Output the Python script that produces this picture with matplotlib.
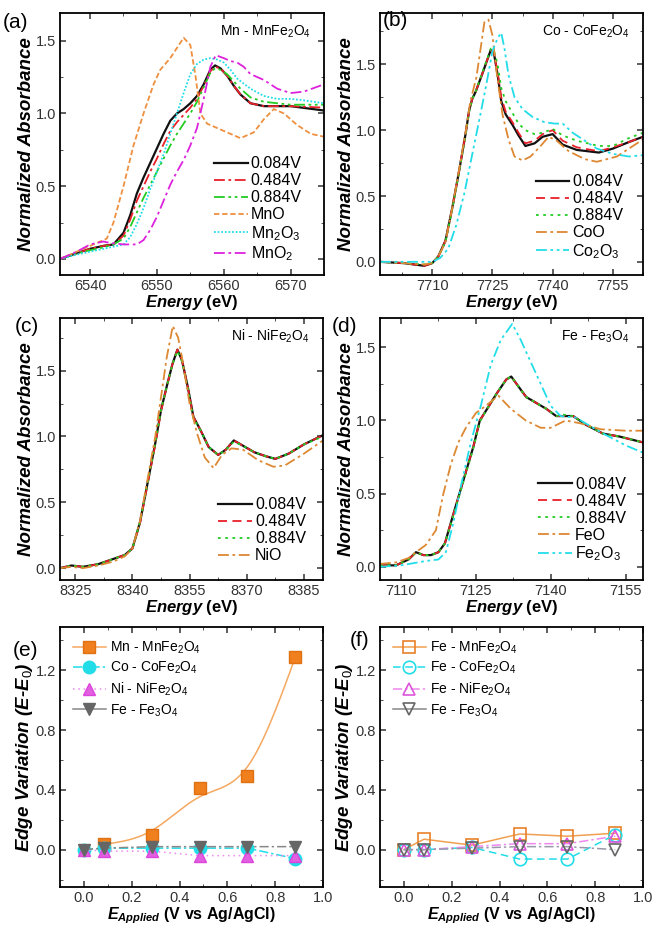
import numpy as np
import matplotlib
matplotlib.use("Agg")
import matplotlib.pyplot as plt
from matplotlib.lines import Line2D
from matplotlib.ticker import MultipleLocator, FormatStrFormatter

plt.rcParams.update({
    "font.family": ["Liberation Sans", "DejaVu Sans"],
    "font.size": 10,
    "mathtext.fontset": "custom",
    "mathtext.rm": "Liberation Sans",
    "mathtext.it": "Liberation Sans:italic:bold",
    "mathtext.bf": "Liberation Sans:bold",
    "axes.linewidth": 1.3,
    "xtick.direction": "in", "ytick.direction": "in",
    "xtick.top": True, "ytick.right": True,
    "xtick.major.size": 4, "ytick.major.size": 4,
    "xtick.minor.size": 2.5, "ytick.minor.size": 2.5,
    "xtick.major.width": 1.1, "ytick.major.width": 1.1,
    "xtick.color": "#333333", "ytick.color": "#333333",
})

BLACK = "#111111"
RED = "#e8202a"
GREEN = "#22cc22"
ORANGE = "#ee9040"
DKORANGE = "#dd8833"
CYAN = "#22dde8"
MAGENTA = "#dd22dd"
GRAY = "#666666"

# ---- (a) Mn K-edge, MnFe2O4 ------------------------------------------------
mn_e = [6535.5, 6538, 6540, 6542, 6543.5, 6545, 6546, 6547, 6548, 6549, 6550, 6551, 6552, 6553,
        6554, 6555, 6556, 6557, 6558, 6558.7, 6559.5, 6560.5, 6561.5, 6562.5, 6564, 6566, 6570, 6575]
mn_a_084 = [0.0, 0.04, 0.07, 0.09, 0.1, 0.18, 0.3, 0.45, 0.56, 0.66, 0.76, 0.86, 0.95, 1.0,
            1.03, 1.07, 1.12, 1.2, 1.3, 1.33, 1.31, 1.26, 1.19, 1.13, 1.07, 1.05, 1.05, 1.02]
mn_a_484 = [0.0, 0.04, 0.07, 0.09, 0.1, 0.16, 0.27, 0.4, 0.5, 0.6, 0.69, 0.79, 0.88, 0.94,
            0.99, 1.04, 1.1, 1.19, 1.29, 1.32, 1.31, 1.26, 1.19, 1.13, 1.07, 1.05, 1.05, 1.04]
mn_a_884 = [0.0, 0.04, 0.06, 0.08, 0.1, 0.14, 0.22, 0.32, 0.42, 0.51, 0.6, 0.69, 0.78, 0.86,
            0.93, 1.0, 1.08, 1.18, 1.28, 1.31, 1.3, 1.27, 1.22, 1.17, 1.11, 1.08, 1.06, 1.06]
mno_e = [6535.5, 6538, 6540, 6541.5, 6542.5, 6543.5, 6545, 6546.5, 6548, 6549.5, 6550.5, 6552, 6553, 6554,
         6555, 6555.8, 6556.5, 6557.5, 6559, 6561, 6562.5, 6564.5, 6566, 6567.5, 6569, 6571, 6573, 6575]
mno_a = [0.0, 0.05, 0.09, 0.12, 0.14, 0.25, 0.5, 0.78, 1.0, 1.2, 1.3, 1.38, 1.45, 1.52,
         1.47, 1.25, 1.0, 0.93, 0.9, 0.86, 0.83, 0.87, 0.96, 1.03, 1.0, 0.92, 0.86, 0.84]
mn2o3_e = [6535.5, 6538, 6540, 6543, 6545, 6546, 6547, 6548, 6549, 6550, 6551, 6552, 6553, 6554,
           6555, 6556, 6557, 6558, 6559, 6560, 6561, 6562, 6564, 6566, 6568, 6570, 6572, 6575]
mn2o3_a = [0.0, 0.03, 0.05, 0.08, 0.1, 0.15, 0.24, 0.35, 0.48, 0.6, 0.72, 0.86, 1.0, 1.14,
           1.27, 1.34, 1.37, 1.38, 1.37, 1.35, 1.3, 1.24, 1.17, 1.12, 1.1, 1.1, 1.09, 1.07]
mno2_e = [6535.5, 6538, 6540, 6542, 6543, 6545, 6547, 6548, 6549, 6550, 6551, 6552, 6553, 6554,
          6555, 6556, 6557, 6558, 6558.8, 6560, 6561, 6562, 6563, 6564, 6566, 6568, 6570, 6572, 6575]
mno2_a = [0.0, 0.05, 0.1, 0.12, 0.11, 0.1, 0.1, 0.13, 0.2, 0.29, 0.4, 0.51, 0.6, 0.68,
          0.78, 0.9, 1.1, 1.32, 1.4, 1.38, 1.36, 1.35, 1.32, 1.27, 1.23, 1.17, 1.14, 1.15, 1.2]

# ---- (b) Co K-edge, CoFe2O4 ------------------------------------------------
co_e = [7697, 7703, 7708, 7710, 7711.5, 7713.3, 7715, 7716.7, 7718.3, 7719.2, 7720, 7720.8, 7722.5,
        7724.6, 7725.4, 7726.3, 7727.2, 7728.3, 7730, 7731.5, 7733.2, 7735.5, 7737.5, 7740, 7742.5,
        7746, 7751.5, 7755, 7759, 7762.5]
co_a_084 = [0.0, -0.01, -0.03, -0.01, 0.04, 0.16, 0.41, 0.69, 0.97, 1.15, 1.24, 1.29, 1.43,
            1.61, 1.58, 1.42, 1.22, 1.12, 1.04, 0.96, 0.88, 0.9, 0.95, 0.97, 0.89,
            0.85, 0.83, 0.86, 0.91, 0.95]
co_a_484 = [0.0, -0.01, -0.03, -0.01, 0.04, 0.16, 0.41, 0.69, 0.97, 1.15, 1.24, 1.29, 1.43,
            1.61, 1.58, 1.44, 1.25, 1.14, 1.06, 0.98, 0.9, 0.92, 0.97, 1.0, 0.92,
            0.87, 0.84, 0.87, 0.91, 0.95]
co_a_884 = [0.0, -0.01, -0.02, -0.01, 0.04, 0.15, 0.4, 0.68, 0.96, 1.14, 1.24, 1.29, 1.44,
            1.62, 1.6, 1.5, 1.32, 1.22, 1.13, 1.05, 1.0, 0.97, 0.98, 1.01, 0.96,
            0.92, 0.88, 0.88, 0.94, 0.98]
coo_e = [7697, 7703, 7708, 7710, 7711.5, 7713.3, 7715, 7716.7, 7718.3, 7719.5, 7721, 7722.2, 7723,
         7724, 7725, 7726, 7727.5, 7729, 7730.5, 7732.5, 7734.5, 7737, 7739, 7741, 7744,
         7748, 7751, 7756, 7760, 7762.5]
coo_a = [0.0, -0.01, -0.02, -0.01, 0.04, 0.15, 0.41, 0.7, 0.98, 1.22, 1.4, 1.65, 1.82,
         1.84, 1.72, 1.45, 1.12, 0.93, 0.8, 0.77, 0.8, 0.88, 0.95, 0.92, 0.84,
         0.78, 0.76, 0.8, 0.88, 0.93]
co2o3_e = [7697, 7703, 7708, 7710, 7712, 7714, 7716, 7718, 7720, 7722, 7723.5, 7725, 7726.3,
           7727.2, 7728, 7729, 7730.5, 7732.5, 7735, 7738, 7740.5, 7742.5, 7745, 7748,
           7751, 7755, 7759, 7762.5]
co2o3_a = [0.0, 0.0, 0.0, 0.0, 0.03, 0.1, 0.28, 0.52, 0.82, 1.12, 1.35, 1.6, 1.7,
           1.74, 1.62, 1.42, 1.25, 1.16, 1.1, 1.06, 1.05, 1.05, 0.98, 0.92,
           0.86, 0.82, 0.8, 0.81]

# ---- (c) Ni K-edge, NiFe2O4 ------------------------------------------------
ni_e = [8321, 8324, 8327, 8331, 8335, 8338, 8340, 8342, 8344, 8346, 8347.5, 8349, 8350.5, 8351.8,
        8353, 8354.5, 8356, 8358, 8360, 8362.5, 8364.5, 8366.6, 8369, 8372, 8375, 8377.5, 8381, 8385, 8390]
ni_a_084 = [0.0, 0.02, 0.01, 0.03, 0.07, 0.1, 0.15, 0.35, 0.65, 0.95, 1.2, 1.38, 1.55, 1.66,
            1.58, 1.38, 1.15, 1.04, 0.92, 0.86, 0.9, 0.97, 0.93, 0.88, 0.85, 0.83, 0.87, 0.94, 1.01]
ni_a_484 = [0.0, 0.02, 0.01, 0.03, 0.07, 0.1, 0.15, 0.34, 0.64, 0.94, 1.19, 1.38, 1.55, 1.66,
            1.58, 1.38, 1.15, 1.04, 0.92, 0.86, 0.9, 0.97, 0.93, 0.88, 0.85, 0.83, 0.87, 0.94, 1.01]
ni_a_884 = [0.0, 0.02, 0.01, 0.03, 0.07, 0.1, 0.15, 0.35, 0.65, 0.95, 1.2, 1.38, 1.55, 1.65,
            1.57, 1.37, 1.14, 1.04, 0.92, 0.86, 0.9, 0.96, 0.93, 0.88, 0.85, 0.83, 0.87, 0.94, 1.0]
nio_e = [8321, 8324, 8327, 8331, 8335, 8338, 8340, 8342, 8344, 8346, 8347.5, 8349, 8350.6, 8352,
         8353, 8355, 8357, 8359, 8361.3, 8363.5, 8366, 8369, 8373, 8377, 8380, 8385, 8390]
nio_a = [0.0, 0.01, 0.0, 0.02, 0.05, 0.09, 0.15, 0.36, 0.68, 1.0, 1.3, 1.6, 1.84, 1.75,
         1.6, 1.25, 1.02, 0.84, 0.76, 0.86, 0.91, 0.9, 0.82, 0.77, 0.78, 0.87, 0.97]

# ---- (d) Fe K-edge, Fe3O4 --------------------------------------------------
fe_e = [7105.8, 7109, 7111.5, 7113, 7114.5, 7116, 7117.5, 7118.8, 7120.5, 7122.5, 7124.5, 7125.8,
        7127.1, 7129.1, 7131.1, 7132.1, 7133.8, 7135.1, 7137.1, 7139.1, 7141.1, 7142.5, 7144.5,
        7147.1, 7150.5, 7153.8, 7158.5]
fe_a_084 = [0.01, 0.01, 0.05, 0.1, 0.08, 0.08, 0.1, 0.16, 0.36, 0.59, 0.82, 1.0,
            1.07, 1.18, 1.28, 1.3, 1.22, 1.16, 1.12, 1.08, 1.03, 1.03, 1.03,
            0.97, 0.91, 0.89, 0.85]
fe_a_484 = [0.01, 0.01, 0.05, 0.1, 0.08, 0.08, 0.1, 0.16, 0.36, 0.59, 0.82, 1.0,
            1.07, 1.18, 1.28, 1.3, 1.22, 1.16, 1.12, 1.08, 1.03, 1.03, 1.03,
            0.97, 0.91, 0.89, 0.85]
fe_a_884 = [0.01, 0.01, 0.05, 0.1, 0.08, 0.08, 0.1, 0.16, 0.35, 0.58, 0.81, 0.99,
            1.07, 1.18, 1.28, 1.3, 1.22, 1.16, 1.12, 1.08, 1.03, 1.04, 1.03,
            0.97, 0.91, 0.89, 0.85]
feo_e = [7105.8, 7109, 7111.5, 7113, 7115, 7117, 7118.5, 7120, 7121.5, 7123, 7125, 7127,
         7129.5, 7132, 7135, 7138, 7140, 7143, 7146, 7150, 7155, 7158.5]
feo_a = [0.02, 0.03, 0.06, 0.1, 0.15, 0.25, 0.5, 0.7, 0.85, 0.95, 1.05, 1.1,
         1.17, 1.08, 1.0, 0.95, 0.95, 1.0, 0.98, 0.94, 0.93, 0.93]
fe2o3_e = [7105.8, 7110, 7115, 7117.5, 7119, 7120.5, 7122, 7124, 7126, 7128, 7130, 7132.3,
           7134, 7136, 7138, 7140, 7142, 7145, 7150, 7155, 7158.5]
fe2o3_a = [0.0, 0.01, 0.04, 0.05, 0.1, 0.3, 0.55, 0.85, 1.1, 1.38, 1.55, 1.66,
           1.55, 1.4, 1.25, 1.1, 1.03, 1.02, 0.92, 0.83, 0.78]

# ---- (e)/(f) edge shifts vs applied potential -------------------------------
potential = [0.0, 0.084, 0.284, 0.484, 0.684, 0.884]
mn_pot = [0.084, 0.284, 0.484, 0.684, 0.884]
mn_shift = [0.04, 0.1, 0.41, 0.49, 1.29]
co_shift = [0.0, 0.01, 0.01, 0.01, 0.01, -0.06]
ni_shift = [0.0, -0.01, -0.01, -0.04, -0.04, -0.04]
fe_shift = [0.0, 0.01, 0.02, 0.02, 0.02, 0.02]

fe_mn_shift = [0.0, 0.07, 0.03, 0.105, 0.09, 0.11]
fe_co_shift = [0.0, 0.0, 0.015, -0.063, -0.063, 0.1]
fe_ni_shift = [0.0, 0.0, 0.02, 0.04, 0.04, 0.09]
fe_fe_shift = [0.0, 0.0, 0.01, 0.02, 0.02, 0.0]

W, H = 653, 927
fig = plt.figure(figsize=(W / 100, H / 100), dpi=100)


def add_ax(left, top, right, bottom):
    return fig.add_axes([left / W, 1 - bottom / H, (right - left) / W, (bottom - top) / H])


def natural_spline(x, y, n=200):
    x = np.asarray(x, float)
    y = np.asarray(y, float)
    h = np.diff(x)
    k = len(x)
    A = np.zeros((k, k))
    r = np.zeros(k)
    A[0, 0] = A[-1, -1] = 1
    for i in range(1, k - 1):
        A[i, i - 1], A[i, i], A[i, i + 1] = h[i - 1], 2 * (h[i - 1] + h[i]), h[i]
        r[i] = 6 * ((y[i + 1] - y[i]) / h[i] - (y[i] - y[i - 1]) / h[i - 1])
    M = np.linalg.solve(A, r)
    xx = np.linspace(x[0], x[-1], n)
    i = np.clip(np.searchsorted(x, xx) - 1, 0, k - 2)
    hi = h[i]
    a, b = x[i + 1] - xx, xx - x[i]
    yy = (M[i] * a ** 3 + M[i + 1] * b ** 3) / (6 * hi) \
        + (y[i] / hi - M[i] * hi / 6) * a + (y[i + 1] / hi - M[i + 1] * hi / 6) * b
    return xx, yy


def smoothing_spline(x, y, lam, w, n=200):
    # weighted Reinsch smoothing spline: the smooth guide line through the Mn points
    x = np.asarray(x, float)
    y = np.asarray(y, float)
    h = np.diff(x)
    k = len(x)
    Q = np.zeros((k, k - 2))
    R = np.zeros((k - 2, k - 2))
    for j in range(1, k - 1):
        Q[j - 1, j - 1] = 1 / h[j - 1]
        Q[j, j - 1] = -1 / h[j - 1] - 1 / h[j]
        Q[j + 1, j - 1] = 1 / h[j]
        R[j - 1, j - 1] = (h[j - 1] + h[j]) / 3
        if j < k - 2:
            R[j - 1, j] = R[j, j - 1] = h[j] / 6
    K = Q @ np.linalg.solve(R, Q.T)
    Wm = np.diag(w)
    g = np.linalg.solve(Wm + lam * K, Wm @ y)
    return natural_spline(x, g, n)


def spec_style(ax, xlim, ylim, xmaj, xmin, ymaj, ymin):
    ax.set_xlim(*xlim)
    ax.set_ylim(*ylim)
    ax.xaxis.set_major_locator(MultipleLocator(xmaj))
    ax.xaxis.set_minor_locator(MultipleLocator(xmin))
    ax.yaxis.set_major_locator(MultipleLocator(ymaj))
    ax.yaxis.set_minor_locator(MultipleLocator(ymin))
    ax.yaxis.set_major_formatter(FormatStrFormatter("%.1f"))
    ax.tick_params(which="both", labelsize=10.5, pad=3)
    ax.set_xlabel(r"$\mathit{Energy}$ (eV)", fontsize=12, fontweight="bold", labelpad=0)
    ax.set_ylabel("Normalized Absorbance", fontsize=13.5, fontweight="bold", style="italic", labelpad=0)


def spec_legend(ax, anchor):
    ax.legend(loc="lower right", bbox_to_anchor=anchor, frameon=False, fontsize=11.5,
              handlelength=2.1, handletextpad=0.2, labelspacing=0.12, borderaxespad=0.0)


LW = 1.3
DASHDOT = (0, (6, 2, 1.5, 2))
DASHDOTDOT = (0, (6, 2, 1.5, 2, 1.5, 2))

# (a)
ax = add_ax(60, 13, 324, 275)
ax.plot(mn_e, mn_a_084, color=BLACK, lw=1.6, label="0.084V")
ax.plot(mn_e, mn_a_484, color=RED, lw=LW, ls=DASHDOT, label="0.484V")
ax.plot(mn_e, mn_a_884, color=GREEN, lw=LW, ls=DASHDOTDOT, label="0.884V")
ax.plot(mno_e, mno_a, color=ORANGE, lw=LW, ls=(0, (3, 1.5)), label="MnO")
ax.plot(mn2o3_e, mn2o3_a, color=CYAN, lw=LW, ls=(0, (1, 1)), label="Mn$_2$O$_3$")
ax.plot(mno2_e, mno2_a, color=MAGENTA, lw=LW, ls=DASHDOT, label="MnO$_2$")
spec_style(ax, (6535.5, 6575), (-0.11, 1.69), 10, 5, 0.5, 0.25)
ax.text(0.95, 0.93, "Mn - MnFe$_2$O$_4$", transform=ax.transAxes, ha="right", va="center", fontsize=10)
spec_legend(ax, (0.94, 0.02))
fig.text(3 / W, 1 - 22 / H, "(a)", fontsize=15, va="center")

# (b)
ax = add_ax(380, 13, 643, 275)
ax.plot(co_e, co_a_084, color=BLACK, lw=1.6, label="0.084V")
ax.plot(co_e, co_a_484, color=RED, lw=LW, ls=(0, (5, 3)), label="0.484V")
ax.plot(co_e, co_a_884, color=GREEN, lw=LW, ls=(0, (1.5, 2.5)), label="0.884V")
ax.plot(coo_e, coo_a, color=DKORANGE, lw=LW, ls=DASHDOT, label="CoO")
ax.plot(co2o3_e, co2o3_a, color=CYAN, lw=LW, ls=DASHDOTDOT, label="Co$_2$O$_3$")
spec_style(ax, (7697, 7762.5), (-0.1, 1.89), 15, 7.5, 0.5, 0.25)
ax.text(0.95, 0.93, "Co - CoFe$_2$O$_4$", transform=ax.transAxes, ha="right", va="center", fontsize=10)
spec_legend(ax, (0.95, 0.03))
fig.text(383 / W, 1 - 20 / H, "(b)", fontsize=15, va="center")

# (c)
ax = add_ax(60, 318, 323, 580)
ax.plot(ni_e, ni_a_084, color=BLACK, lw=1.6, label="0.084V")
ax.plot(ni_e, ni_a_484, color=RED, lw=LW, ls=(0, (5, 3)), label="0.484V")
ax.plot(ni_e, ni_a_884, color=GREEN, lw=LW, ls=(0, (1.5, 2.5)), label="0.884V")
ax.plot(nio_e, nio_a, color=DKORANGE, lw=LW, ls=DASHDOT, label="NiO")
spec_style(ax, (8321, 8390), (-0.09, 1.9), 15, 7.5, 0.5, 0.25)
ax.text(0.95, 0.93, "Ni - NiFe$_2$O$_4$", transform=ax.transAxes, ha="right", va="center", fontsize=10)
spec_legend(ax, (0.96, 0.04))
fig.text(15 / W, 1 - 327 / H, "(c)", fontsize=15, va="center")

# (d)
ax = add_ax(380, 318, 643, 580)
ax.plot(fe_e, fe_a_084, color=BLACK, lw=1.6, label="0.084V")
ax.plot(fe_e, fe_a_484, color=RED, lw=LW, ls=(0, (5, 3)), label="0.484V")
ax.plot(fe_e, fe_a_884, color=GREEN, lw=LW, ls=(0, (1.5, 2.5)), label="0.884V")
ax.plot(feo_e, feo_a, color=DKORANGE, lw=LW, ls=DASHDOT, label="FeO")
ax.plot(fe2o3_e, fe2o3_a, color=CYAN, lw=LW, ls=DASHDOTDOT, label="Fe$_2$O$_3$")
spec_style(ax, (7105.8, 7158.5), (-0.09, 1.7), 15, 7.5, 0.5, 0.25)
ax.text(0.95, 0.93, "Fe - Fe$_3$O$_4$", transform=ax.transAxes, ha="right", va="center", fontsize=10)
spec_legend(ax, (0.96, 0.04))
fig.text(332 / W, 1 - 327 / H, "(d)", fontsize=15, va="center")


def shift_style(ax, handles):
    ax.set_xlim(-0.1, 1.0)
    ax.set_ylim(-0.25, 1.49)
    ax.xaxis.set_major_locator(MultipleLocator(0.2))
    ax.xaxis.set_minor_locator(MultipleLocator(0.1))
    ax.yaxis.set_major_locator(MultipleLocator(0.4))
    ax.yaxis.set_minor_locator(MultipleLocator(0.2))
    ax.xaxis.set_major_formatter(FormatStrFormatter("%.1f"))
    ax.yaxis.set_major_formatter(FormatStrFormatter("%.1f"))
    ax.tick_params(which="both", labelsize=10.5, pad=3)
    ax.set_xlabel(r"$\mathit{E}_{\mathit{Applied}}$ (V vs Ag/AgCl)", fontsize=11.5, fontweight="bold", labelpad=0)
    ax.set_ylabel(r"Edge Variation (E-E$_{\mathit{0}}$)", fontsize=13.5, fontweight="bold", style="italic", labelpad=0)
    ax.legend(handles=handles, loc="upper left", frameon=False, fontsize=10, handlelength=2.4,
              handletextpad=0.3, labelspacing=0.3, borderaxespad=0.5)


MS = 9
MN_LINE = "#f5a860"
MN_FILL = "#f07f1e"

# (e)
ax = add_ax(60, 627, 323, 887)
sx, sy = smoothing_spline(mn_pot, mn_shift, 2.5e-4, [2, 1, 1, 1, 8])
ax.plot(sx, sy, color=MN_LINE, lw=1.1)
ax.plot(mn_pot, mn_shift, ls="none", marker="s", ms=MS, mfc=MN_FILL, mec="#e07010")
h_co, = ax.plot(potential, co_shift, color=CYAN, lw=1.1, ls=DASHDOT, marker="o", ms=MS,
                mfc=CYAN, mec=CYAN, label="Co - CoFe$_2$O$_4$")
h_ni, = ax.plot(potential, ni_shift, color="#ee88ee", lw=1.1, ls=(0, (1, 2.5)), marker="^", ms=MS,
                mfc="#e060e0", mec="#dd44dd", label="Ni - NiFe$_2$O$_4$")
ax.plot(potential, fe_shift, color="#888888", lw=1.1, ls=DASHDOT, marker="v", ms=MS,
        mfc=GRAY, mec=GRAY)
h_mn = Line2D([], [], color=MN_LINE, lw=1.1, marker="s", ms=MS, mfc=MN_FILL, mec="#e07010",
              label="Mn - MnFe$_2$O$_4$")
h_fe = Line2D([], [], color="#888888", lw=1.1, marker="v", ms=MS, mfc=GRAY, mec=GRAY,
              label="Fe - Fe$_3$O$_4$")
shift_style(ax, [h_mn, h_co, h_ni, h_fe])
fig.text(13 / W, 1 - 650 / H, "(e)", fontsize=15, va="center")

# (f)
ax = add_ax(380, 627, 643, 887)
h1, = ax.plot(potential, fe_mn_shift, color="#f0a050", lw=1.1, marker="s", ms=MS, mfc="none",
              mec="#e8802a", mew=1.2, label="Fe - MnFe$_2$O$_4$")
h2, = ax.plot(potential, fe_co_shift, color=CYAN, lw=1.1, ls=(0, (5, 3)), marker="o", ms=MS, mfc="none",
              mec=CYAN, mew=1.2, label="Fe - CoFe$_2$O$_4$")
h3, = ax.plot(potential, fe_ni_shift, color="#ee88ee", lw=1.1, ls=DASHDOT, marker="^", ms=MS,
              mfc="none", mec="#dd55dd", mew=1.2, label="Fe - NiFe$_2$O$_4$")
ax.plot(potential, fe_fe_shift, color="#9999aa", lw=1.1, ls=DASHDOT, marker="v", ms=MS,
        mfc="none", mec=GRAY, mew=1.2)
h4 = Line2D([], [], color="#888888", lw=1.1, marker="v", ms=MS, mfc="none", mec=GRAY, mew=1.2,
            label="Fe - Fe$_3$O$_4$")
shift_style(ax, [h1, h2, h3, h4])
fig.text(350 / W, 1 - 640 / H, "(f)", fontsize=15, va="center")

fig.savefig("out.png", dpi=100)
